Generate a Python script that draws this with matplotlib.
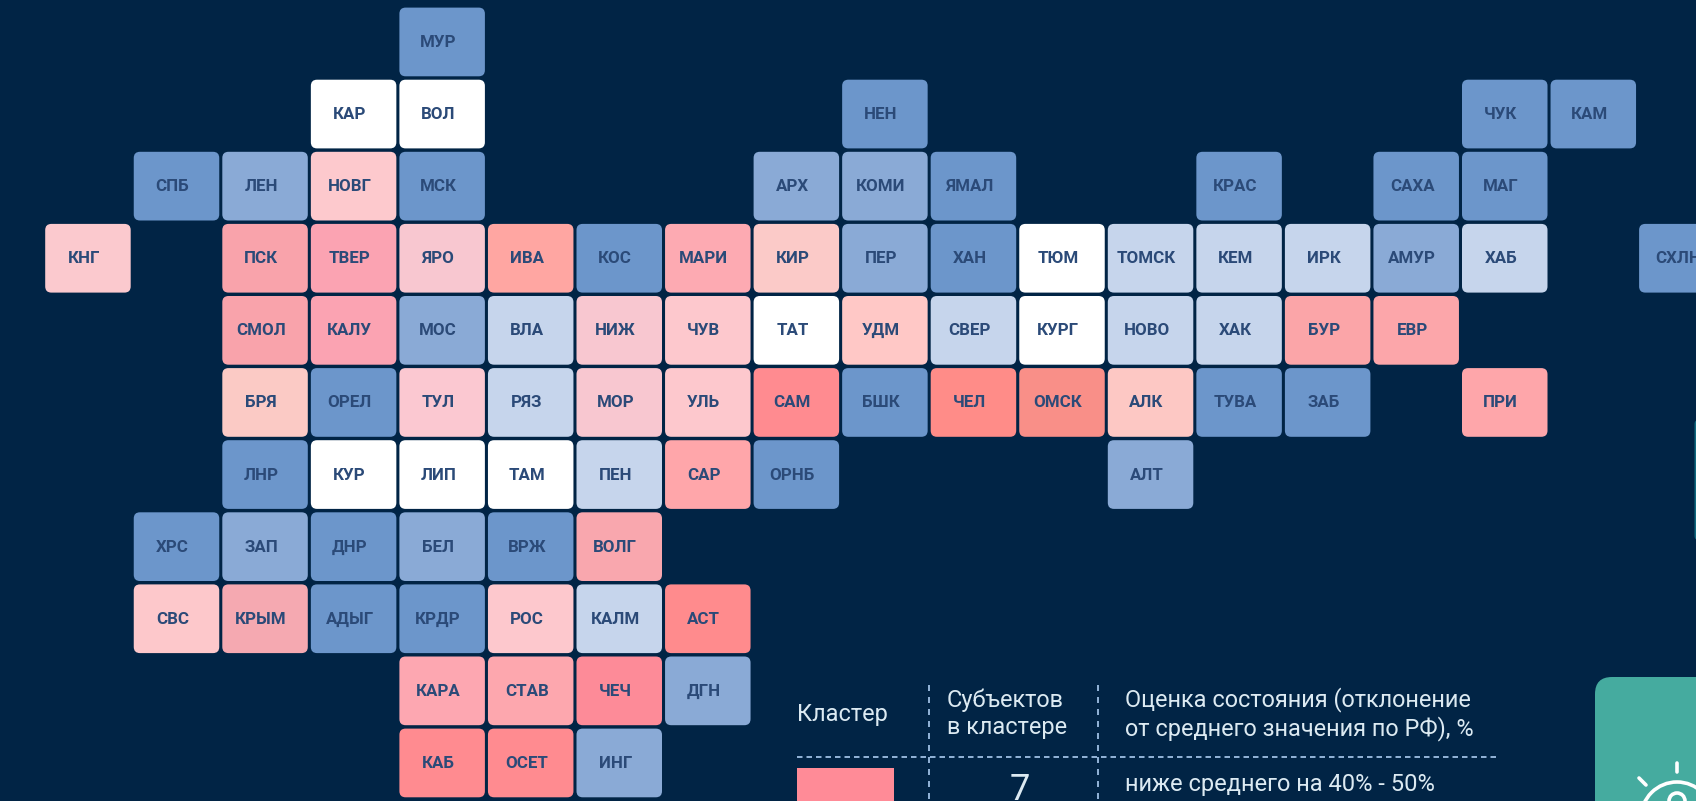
import matplotlib
matplotlib.use('Agg')
import matplotlib.pyplot as plt
from matplotlib.patches import FancyBboxPatch, Circle

# Shades used by the cells
B = '#6c96cb'
M = '#8aaad6'
L = '#c6d5ec'
W = '#ffffff'

# Each row of the tile map: column index, region label, cell colour
row0_cols = [4]
row0_labels = ['МУР']
row0_colors = [B]

row1_cols = [3, 4, 9, 16, 17]
row1_labels = ['КАР', 'ВОЛ', 'НЕН', 'ЧУК', 'КАМ']
row1_colors = [W, W, B, B, B]

row2_cols = [1, 2, 3, 4, 8, 9, 10, 13, 15, 16]
row2_labels = ['СПБ', 'ЛЕН', 'НОВГ', 'МСК', 'АРХ', 'КОМИ', 'ЯМАЛ', 'КРАС', 'САХА', 'МАГ']
row2_colors = [B, M, '#fdc9cd', B, M, M, B, B, B, B]

row3_cols = [0, 2, 3, 4, 5, 6, 7, 8, 9, 10, 11, 12, 13, 14, 15, 16, 18]
row3_labels = ['КНГ', 'ПСК', 'ТВЕР', 'ЯРО', 'ИВА', 'КОС', 'МАРИ', 'КИР', 'ПЕР', 'ХАН', 'ТЮМ',
               'ТОМСК', 'КЕМ', 'ИРК', 'АМУР', 'ХАБ', 'СХЛН']
row3_colors = ['#fbc9ce', '#f9a3ab', '#fba3b2', '#f8c7d0', '#ffa6a2', B, '#fdaab2', '#fbcac8',
               M, B, W, L, L, L, M, L, B]

row4_cols = [2, 3, 4, 5, 6, 7, 8, 9, 10, 11, 12, 13, 14, 15]
row4_labels = ['СМОЛ', 'КАЛУ', 'МОС', 'ВЛА', 'НИЖ', 'ЧУВ', 'ТАТ', 'УДМ', 'СВЕР', 'КУРГ', 'НОВО',
               'ХАК', 'БУР', 'ЕВР']
row4_colors = ['#f9a3ab', '#fba3b2', M, L, '#f8c7d0', '#fdc8cd', W, '#ffc8c6', L, W, L, L,
               '#fba5a8', '#fca6aa']

row5_cols = [2, 3, 4, 5, 6, 7, 8, 9, 10, 11, 12, 13, 14, 16]
row5_labels = ['БРЯ', 'ОРЕЛ', 'ТУЛ', 'РЯЗ', 'МОР', 'УЛЬ', 'САМ', 'БШК', 'ЧЕЛ', 'ОМСК', 'АЛК',
               'ТУВА', 'ЗАБ', 'ПРИ']
row5_colors = ['#fbcac5', B, '#fbc8d1', L, '#f8c7d0', '#fdc8cd', '#ff8b90', B, '#ff8c88',
               '#f98f88', '#fdc8c4', B, B, '#fea6aa']

row6_cols = [2, 3, 4, 5, 6, 7, 8, 12]
row6_labels = ['ЛНР', 'КУР', 'ЛИП', 'ТАМ', 'ПЕН', 'САР', 'ОРНБ', 'АЛТ']
row6_colors = [B, W, W, W, L, '#ffa6aa', B, M]

row7_cols = [1, 2, 3, 4, 5, 6]
row7_labels = ['ХРС', 'ЗАП', 'ДНР', 'БЕЛ', 'ВРЖ', 'ВОЛГ']
row7_colors = [B, M, B, M, B, '#f9a7ae']

row8_cols = [1, 2, 3, 4, 5, 6, 7]
row8_labels = ['СВС', 'КРЫМ', 'АДЫГ', 'КРДР', 'РОС', 'КАЛМ', 'АСТ']
row8_colors = ['#fdc8cb', '#f5a9b1', B, B, '#fdc8cd', L, '#ff8b8d']

row9_cols = [4, 5, 6, 7]
row9_labels = ['КАРА', 'СТАВ', 'ЧЕЧ', 'ДГН']
row9_colors = ['#fda7b1', '#fda7ae', '#fd8b98', M]

row10_cols = [4, 5, 6]
row10_labels = ['КАБ', 'ОСЕТ', 'ИНГ']
row10_colors = ['#ff8b90', '#ff8b90', M]

all_cols = [row0_cols, row1_cols, row2_cols, row3_cols, row4_cols, row5_cols,
            row6_cols, row7_cols, row8_cols, row9_cols, row10_cols]
all_labels = [row0_labels, row1_labels, row2_labels, row3_labels, row4_labels, row5_labels,
              row6_labels, row7_labels, row8_labels, row9_labels, row10_labels]
all_colors = [row0_colors, row1_colors, row2_colors, row3_colors, row4_colors, row5_colors,
              row6_colors, row7_colors, row8_colors, row9_colors, row10_colors]

# Legend table
header_cluster = 'Кластер'
header_count = 'Субъектов\nв кластере'
header_score = 'Оценка состояния (отклонение\nот среднего значения по РФ), %'
legend_count = '7'
legend_score = 'ниже среднего на 40% - 50%'
legend_color = '#ff8b97'

BG = '#012445'
W_PX, H_PX = 1696, 801
PITCH_X, PITCH_Y = 88.55, 72.1
LEFT, TOP = 45.2, 7.6
CELL_W, CELL_H = 85.5 / PITCH_X, 68.7 / PITCH_Y
plt.rcParams['font.family'] = ['Roboto', 'DejaVu Sans']

fig = plt.figure(figsize=(W_PX / 100, H_PX / 100), dpi=100, facecolor=BG)

# Map axes, one unit is one tile
ax = fig.add_axes([0, 0, 1, 1])
ax.set_xlim(-LEFT / PITCH_X, (W_PX - LEFT) / PITCH_X)
ax.set_ylim((H_PX - TOP) / PITCH_Y, -TOP / PITCH_Y)
ax.axis('off')

for r, (cols, labels, colors) in enumerate(zip(all_cols, all_labels, all_colors)):
    for col, label, color in zip(cols, labels, colors):
        ax.add_patch(FancyBboxPatch((col, r), CELL_W, CELL_H,
                                    boxstyle='round,pad=0,rounding_size=0.07',
                                    mutation_aspect=PITCH_X / PITCH_Y,
                                    fc=color, ec='none'))
        ax.text(col + CELL_W / 2 - 4 / PITCH_X, r + CELL_H / 2 - 1 / PITCH_Y, label, ha='center',
                va='center_baseline', fontsize=12.2, fontweight='bold', color='#2b4a78')

# Overlay in pixels for the table and the card
ov = fig.add_axes([0, 0, 1, 1])
ov.set_xlim(0, W_PX)
ov.set_ylim(H_PX, 0)
ov.axis('off')
ov.patch.set_alpha(0)

TXT = '#dceaf2'
LINE = '#8fb0d4'
ov.plot([929, 929], [685, 801], color=LINE, lw=1.44, dashes=(3, 3))
ov.plot([1098, 1098], [685, 801], color=LINE, lw=1.44, dashes=(3, 3))
ov.plot([797, 1497], [756.5, 756.5], color=LINE, lw=1.44, dashes=(2.75, 2))

ov.text(797, 715, header_cluster, ha='left', va='center', fontsize=16.9, color=TXT)
ov.text(947, 714, header_count, ha='left', va='center', fontsize=16.9, color=TXT, linespacing=1.2)
ov.text(1125, 714, header_score, ha='left', va='center', fontsize=16.9, color=TXT, linespacing=1.2)

ov.add_patch(plt.Rectangle((797, 768), 97, 40, fc=legend_color, ec='none'))
ov.text(1020, 800.5, legend_count, ha='center', va='baseline', fontsize=26, color=TXT)
ov.text(1125, 785, legend_score, ha='left', va='center', fontsize=17, color=TXT)

# Teal card with the bulb icon, cut off by the page edge
ov.add_patch(FancyBboxPatch((1595, 677), 160, 200, boxstyle='round,pad=0,rounding_size=17',
                            fc='#45ab9f', ec='none'))
ov.plot([1677, 1677], [763, 772], color='white', lw=2.6, solid_capstyle='round')
ov.plot([1639, 1646], [778, 785], color='white', lw=2.6, solid_capstyle='round')
ov.add_patch(Circle((1677, 818), 36, fc='none', ec='white', lw=2.6))
ov.add_patch(Circle((1677, 801), 8, fc='none', ec='white', lw=2.6))

# Sliver of another card at the right edge
ov.add_patch(FancyBboxPatch((1694.5, 420), 10, 120, boxstyle='round,pad=0,rounding_size=4',
                            fc='#116a80', ec='none'))

fig.savefig('out.png', dpi=100, facecolor=BG)
